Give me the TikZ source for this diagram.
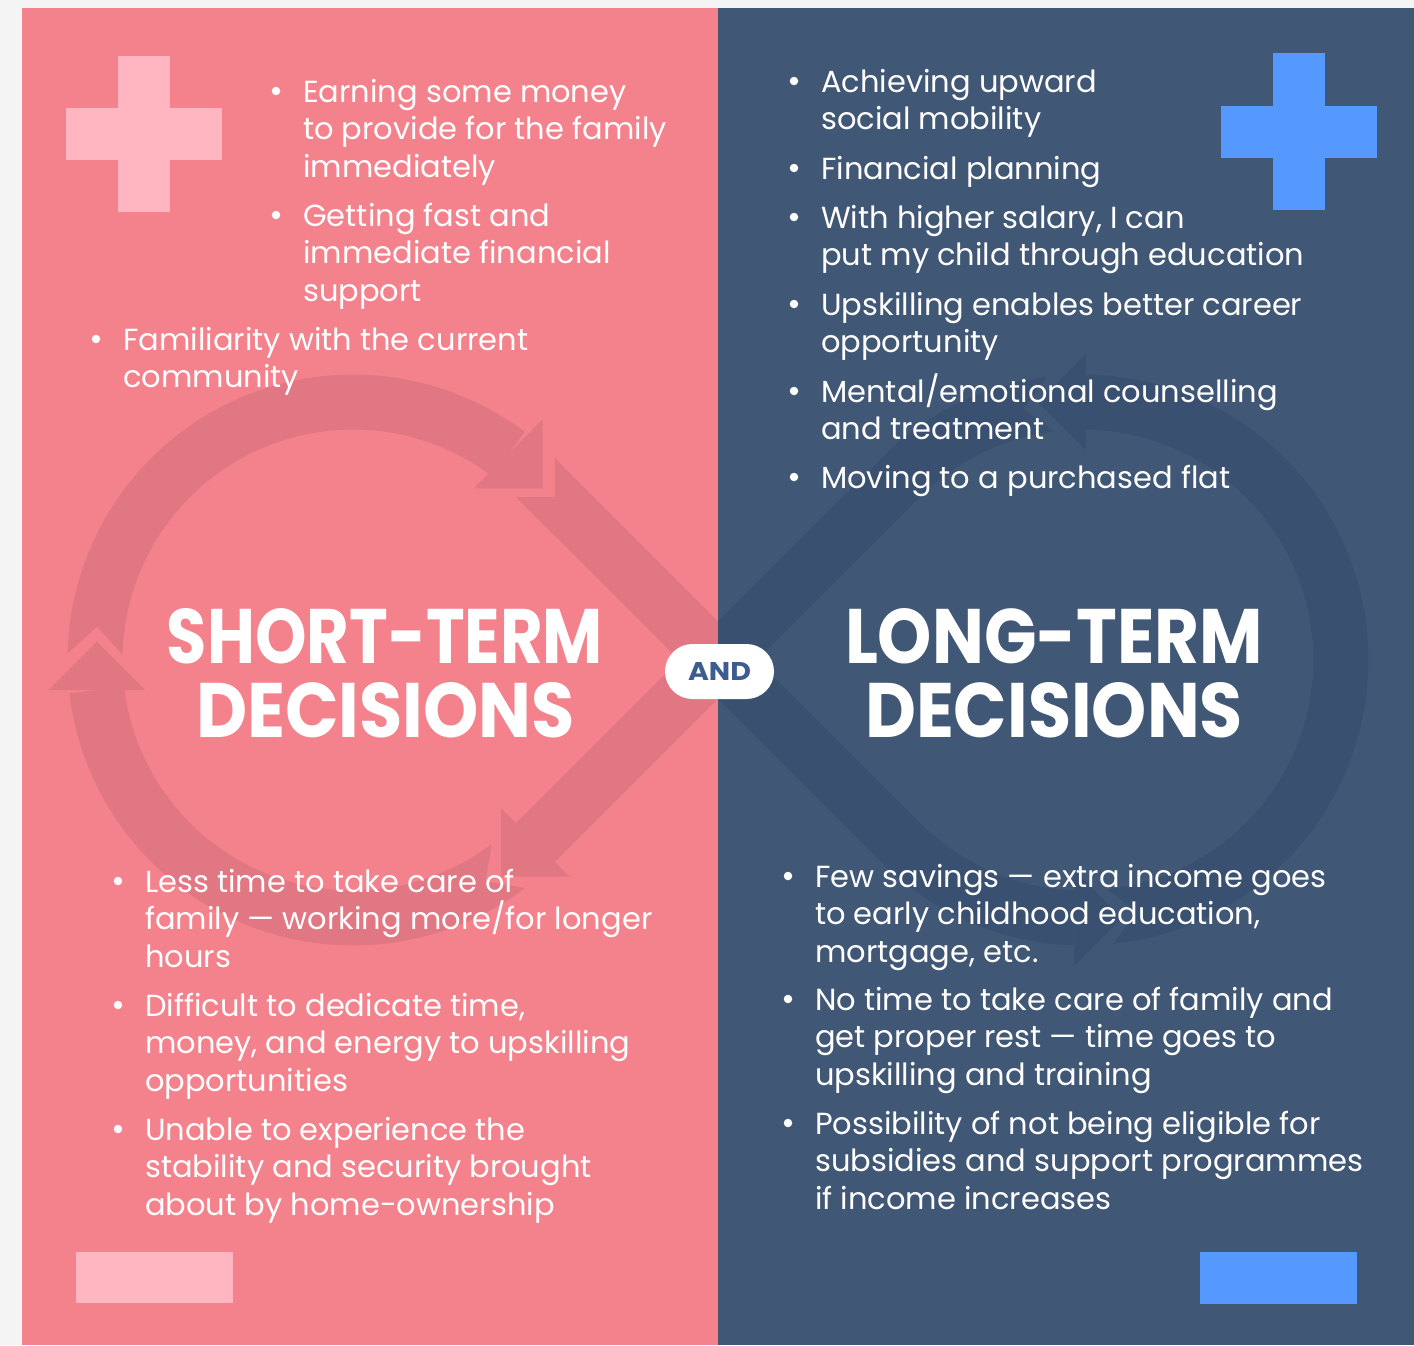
\documentclass[tikz,border=0pt]{standalone}
\usepackage{fontspec}
\setmainfont{Poppins}
\usepackage{graphicx}
\definecolor{pagebg}{HTML}{F4F4F4}
\definecolor{pinkbg}{HTML}{F4828C}
\definecolor{pinkband}{HTML}{E17782}
\definecolor{pinkmark}{HTML}{FFB6C1}
\definecolor{navybg}{HTML}{415776}
\definecolor{navyband}{HTML}{3A5070}
\definecolor{bluemark}{HTML}{5599FF}
\definecolor{andblue}{HTML}{3D5C8F}
\def\Ro{285.5}\def\Ri{230.5}\def\Rm{258}
\newcommand\arrowhd[3]{%
  \fill ({#1-48.5*sin(#3)},{#2+48.5*cos(#3)}) -- ({#1+48.5*cos(#3)},{#2+48.5*sin(#3)}) -- ({#1+48.5*sin(#3)},{#2-48.5*cos(#3)}) -- cycle;}
\newcommand\infshape{%
  \fill plot[domain=181.3:307] ({353+\Ro*cos(\x)},{660+\Ro*sin(\x)}) -- plot[domain=307:181.3] ({353+\Ri*cos(\x)},{660+\Ri*sin(\x)}) -- ({353+\Rm*cos(187.4)},{660+\Rm*sin(187.4)}) -- cycle;
  \arrowhd{353+\Rm*cos(307)}{660+\Rm*sin(307)}{45}
  \fill ({353+\Ro*cos(-45)},{660+\Ro*sin(-45)}) -- plot[domain=135:92] ({1083+\Ri*cos(\x)},{660+\Ri*sin(\x)}) -- plot[domain=92:135] ({1083+\Ro*cos(\x)},{660+\Ro*sin(\x)}) -- ({353+\Ri*cos(-45)},{660+\Ri*sin(-45)}) -- ({353+\Rm*cos(-45)+19.445},{660+\Rm*sin(-45)+19.445}) -- cycle;
  \arrowhd{1083+\Rm*cos(92)}{660+\Rm*sin(92)}{0}
  \fill plot[domain=84:-89.3] ({1083+\Ro*cos(\x)},{660+\Ro*sin(\x)}) -- plot[domain=-89.3:84] ({1083+\Ri*cos(\x)},{660+\Ri*sin(\x)}) -- ({1083+\Rm*cos(77.9)},{660+\Rm*sin(77.9)}) -- cycle;
  \arrowhd{1083+\Rm*cos(-89.3)}{660+\Rm*sin(-89.3)}{180}
  \fill plot[domain=-97.3:-135] ({1083+\Ro*cos(\x)},{660+\Ro*sin(\x)}) -- ({353+\Ri*cos(45)},{660+\Ri*sin(45)}) -- ({353+\Ro*cos(45)},{660+\Ro*sin(45)}) -- plot[domain=-135:-97.3] ({1083+\Ri*cos(\x)},{660+\Ri*sin(\x)}) -- ({1083+\Rm*cos(-103.4)},{660+\Rm*sin(-103.4)}) -- cycle;
  \arrowhd{353+\Rm*cos(45)}{660+\Rm*sin(45)}{135}
  \fill plot[domain=53:173.3] ({353+\Ro*cos(\x)},{660+\Ro*sin(\x)}) -- plot[domain=173.3:53] ({353+\Ri*cos(\x)},{660+\Ri*sin(\x)}) -- ({353+\Rm*cos(59.1)},{660+\Rm*sin(59.1)}) -- cycle;
  \arrowhd{353+\Rm*cos(173.3)}{660+\Rm*sin(173.3)}{270}
}
\tikzset{
  txt/.style={anchor=base west, inner sep=0pt, text=white, font=\fontsize{30.5}{36}\selectfont},
  dot/.style={circle, fill=white, inner sep=0pt, minimum size=8.5pt},
  title/.style={anchor=base, inner sep=0pt, text=white, font=\bfseries\fontsize{70}{80}\selectfont},
}
\newcommand\blist[4]{%
  \node[dot] (#1-b) at ({#2-27},{#3-11}) {};
  \foreach \t [count=\i from 0] in {#4} {\node[txt] (#1-\i) at (#2,{#3+37.5*\i}) {\t};}%
}
\begin{document}
\begin{tikzpicture}[x=1pt,y=-1pt]
\useasboundingbox (0,0) rectangle (1414,1345);
\fill[pagebg] (0,0) rectangle (1414,1345);
\fill[pinkbg] (22,8) rectangle (718,1345);
\fill[navybg] (718,8) rectangle (1414,1345);
\begin{scope}
  \clip (22,8) rectangle (718,1345);
  \begin{scope}[fill=pinkband, samples=60] \infshape \end{scope}
\end{scope}
\begin{scope}
  \clip (718,8) rectangle (1414,1345);
  \begin{scope}[fill=navyband, samples=60] \infshape \end{scope}
\end{scope}
% marks
\fill[pinkmark] (118,56) rectangle (170,212);
\fill[pinkmark] (66,108) rectangle (222,160);
\fill[bluemark] (1273,53) rectangle (1325,210);
\fill[bluemark] (1221,106) rectangle (1377,158);
\fill[pinkmark] (76,1252) rectangle (233,1303);
\fill[bluemark] (1200,1252) rectangle (1357,1304);
% titles
\node[title] (st1) at (385,663) {\resizebox{436pt}{55pt}{SHORT-TERM}};
\node[title] (st2) at (385.5,737) {\resizebox{379pt}{55pt}{DECISIONS}};
\node[title] (lt1) at (1054,663) {\resizebox{418pt}{55pt}{LONG-TERM}};
\node[title] (lt2) at (1054,737) {\resizebox{378pt}{55pt}{DECISIONS}};
\node[fill=white, rounded corners=27.5pt, minimum width=109pt, minimum height=55pt, inner sep=0pt, text=andblue, font=\bfseries\fontsize{25}{30}\selectfont] (and) at (719.5,671.5) {\resizebox{63pt}{18pt}{AND}};
% lists
\blist{lta}{303}{102}{Earning some money, to provide for the family, immediately}
\blist{ltb}{303}{226}{Getting fast and, immediate financial, support}
\blist{ltc}{123}{350}{Familiarity with the current, community}
\blist{lba}{145}{892}{Less time to take care of, family — working more/for longer, hours}
\blist{lbb}{145}{1016}{{Difficult to dedicate time,}, {money, and energy to upskilling}, opportunities}
\blist{lbc}{145}{1140}{Unable to experience the, stability and security brought, about by home-ownership}
\blist{rta}{821}{92}{Achieving upward, social mobility}
\blist{rtb}{821}{179}{Financial planning}
\blist{rtc}{821}{228}{{With higher salary, I can}, put my child through education}
\blist{rtd}{821}{315}{Upskilling enables better career, opportunity}
\blist{rte}{821}{402}{Mental/emotional counselling, and treatment}
\blist{rtf}{821}{488}{Moving to a purchased flat}
\blist{rba}{815}{887}{{Few savings — extra income goes}, {to early childhood education,}, {mortgage, etc.}}
\blist{rbb}{815}{1010}{No time to take care of family and, get proper rest — time goes to, upskilling and training}
\blist{rbc}{815}{1134}{Possibility of not being eligible for, subsidies and support programmes, if income increases}
\end{tikzpicture}
\end{document}
